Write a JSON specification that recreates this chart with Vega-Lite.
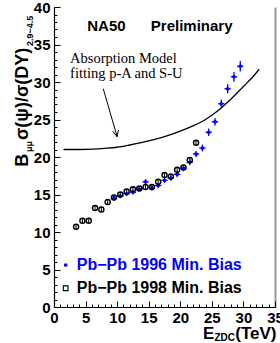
{
  "$schema": "https://vega.github.io/schema/vega-lite/v6.json",
  "width": 221,
  "height": 300,
  "autosize": "none",
  "padding": {"left": 54, "top": 7, "right": 5, "bottom": 36},
  "background": "white",
  "config": {
    "view": {"stroke": null},
    "axis": {"labelFont": "Liberation Sans", "labelFontWeight": "bold", "labelFontSize": 15, "labelColor": "black", "domainColor": "black", "tickColor": "black", "grid": false, "title": null}
  },
  "resolve": {"axis": {"x": "independent", "y": "independent"}},
  "datasets": {
    "model": [
      {"e": 1.5, "r": 21.0}, {"e": 4, "r": 21.0}, {"e": 6, "r": 21.05}, {"e": 8, "r": 21.15}, {"e": 10, "r": 21.3},
      {"e": 12, "r": 21.6}, {"e": 14, "r": 21.95}, {"e": 16, "r": 22.35}, {"e": 18, "r": 22.85}, {"e": 20, "r": 23.45},
      {"e": 22, "r": 24.15}, {"e": 24, "r": 25.0}, {"e": 26, "r": 26.2}, {"e": 28, "r": 27.7}, {"e": 30, "r": 29.4},
      {"e": 31.5, "r": 30.7}, {"e": 32.5, "r": 31.7}
    ],
    "pb98": [
      {"e": 3.5, "r": 10.7, "lo": 10.35, "hi": 11.05},
      {"e": 4.5, "r": 11.5, "lo": 11.2, "hi": 11.8},
      {"e": 5.5, "r": 11.5, "lo": 11.2, "hi": 11.8},
      {"e": 6.5, "r": 13.2, "lo": 12.9, "hi": 13.5},
      {"e": 7.5, "r": 13.0, "lo": 12.7, "hi": 13.3},
      {"e": 8.5, "r": 14.0, "lo": 13.7, "hi": 14.3},
      {"e": 9.5, "r": 14.6, "lo": 14.3, "hi": 14.9},
      {"e": 10.5, "r": 15.0, "lo": 14.7, "hi": 15.3},
      {"e": 11.5, "r": 15.4, "lo": 15.1, "hi": 15.7},
      {"e": 12.5, "r": 15.7, "lo": 15.4, "hi": 16.0},
      {"e": 13.5, "r": 15.8, "lo": 15.5, "hi": 16.1},
      {"e": 14.5, "r": 16.0, "lo": 15.7, "hi": 16.3},
      {"e": 15.5, "r": 16.0, "lo": 15.7, "hi": 16.3},
      {"e": 16.5, "r": 16.7, "lo": 16.4, "hi": 17.0},
      {"e": 17.5, "r": 17.6, "lo": 17.3, "hi": 17.9},
      {"e": 18.5, "r": 17.4, "lo": 17.1, "hi": 17.7},
      {"e": 19.5, "r": 18.3, "lo": 18.0, "hi": 18.6},
      {"e": 20.5, "r": 18.6, "lo": 18.3, "hi": 18.9},
      {"e": 21.5, "r": 19.6, "lo": 19.3, "hi": 19.9},
      {"e": 22.5, "r": 21.9, "lo": 21.6, "hi": 22.2}
    ],
    "pb96": [
      {"e": 9.5, "r": 14.5, "lo": 14.2, "hi": 14.8, "elo": 9.0, "ehi": 10.0},
      {"e": 10.5, "r": 14.8, "lo": 14.5, "hi": 15.1, "elo": 10.0, "ehi": 11.0},
      {"e": 11.5, "r": 15.1, "lo": 14.8, "hi": 15.4, "elo": 11.0, "ehi": 12.0},
      {"e": 12.5, "r": 15.3, "lo": 15.0, "hi": 15.6, "elo": 12.0, "ehi": 13.0},
      {"e": 13.5, "r": 15.7, "lo": 15.4, "hi": 16.0, "elo": 13.0, "ehi": 14.0},
      {"e": 14.5, "r": 16.7, "lo": 16.35, "hi": 17.05, "elo": 14.0, "ehi": 15.0},
      {"e": 15.5, "r": 15.9, "lo": 15.55, "hi": 16.25, "elo": 15.0, "ehi": 16.0},
      {"e": 16.5, "r": 16.2, "lo": 15.85, "hi": 16.55, "elo": 16.0, "ehi": 17.0},
      {"e": 17.5, "r": 16.9, "lo": 16.55, "hi": 17.25, "elo": 17.0, "ehi": 18.0},
      {"e": 18.5, "r": 17.2, "lo": 16.85, "hi": 17.55, "elo": 18.0, "ehi": 19.0},
      {"e": 19.5, "r": 17.7, "lo": 17.3, "hi": 18.1, "elo": 19.0, "ehi": 20.0},
      {"e": 20.5, "r": 18.5, "lo": 18.1, "hi": 18.9, "elo": 20.0, "ehi": 21.0},
      {"e": 21.5, "r": 19.3, "lo": 18.9, "hi": 19.7, "elo": 21.0, "ehi": 22.0},
      {"e": 22.5, "r": 20.4, "lo": 20.0, "hi": 20.8, "elo": 22.0, "ehi": 23.0},
      {"e": 23.5, "r": 21.2, "lo": 20.75, "hi": 21.65, "elo": 23.0, "ehi": 24.0},
      {"e": 24.5, "r": 23.3, "lo": 22.8, "hi": 23.8, "elo": 24.0, "ehi": 25.0},
      {"e": 25.5, "r": 24.7, "lo": 24.2, "hi": 25.2, "elo": 25.0, "ehi": 26.0},
      {"e": 26.5, "r": 27.1, "lo": 26.55, "hi": 27.65, "elo": 26.0, "ehi": 27.0},
      {"e": 27.5, "r": 29.1, "lo": 28.5, "hi": 29.7, "elo": 27.0, "ehi": 28.0},
      {"e": 28.5, "r": 30.7, "lo": 30.05, "hi": 31.35, "elo": 28.0, "ehi": 29.0},
      {"e": 29.5, "r": 32.1, "lo": 31.4, "hi": 32.8, "elo": 29.0, "ehi": 30.0}
    ],
    "arrow": [
      {"e": 7.8, "r": 29.1, "e2": 10.0, "r2": 22.7},
      {"e": 9.3, "r": 23.45, "e2": 10.0, "r2": 22.7},
      {"e": 10.2, "r": 23.6, "e2": 10.0, "r2": 22.7}
    ]
  },
  "layer": [
    {
      "data": {"name": "model"},
      "mark": {"type": "line", "color": "black", "strokeWidth": 1.3, "interpolate": "monotone"},
      "encoding": {
        "x": {"field": "e", "type": "quantitative", "scale": {"domain": [0, 35], "nice": false, "zero": false},
              "axis": {"orient": "bottom", "values": [0, 5, 10, 15, 20, 25, 30, 35], "tickSize": -6, "labelPadding": 9, "domainWidth": 1.2, "labelFlush": false, "labelOverlap": false, "zindex": 2}},
        "y": {"field": "r", "type": "quantitative", "scale": {"domain": [0, 40], "nice": false, "zero": false},
              "axis": {"orient": "left", "values": [0, 5, 10, 15, 20, 25, 30, 35, 40], "tickSize": -6, "labelPadding": 10, "domainWidth": 1.2, "labelFlush": false, "labelOverlap": false, "labelBound": false, "zindex": 2}}
      }
    },
    {
      "data": {"name": "pb98"},
      "mark": {"type": "rule", "color": "black", "strokeWidth": 1},
      "encoding": {
        "x": {"field": "e", "type": "quantitative", "scale": {"domain": [0, 35], "nice": false, "zero": false}, "axis": null},
        "y": {"field": "lo", "type": "quantitative", "scale": {"domain": [0, 40], "nice": false, "zero": false}, "axis": null},
        "y2": {"field": "hi"}
      }
    },
    {
      "data": {"name": "pb96"},
      "mark": {"type": "rule", "color": "#0000ff", "strokeWidth": 1.3},
      "encoding": {
        "x": {"field": "e", "type": "quantitative", "scale": {"domain": [0, 35], "nice": false, "zero": false}, "axis": null},
        "y": {"field": "lo", "type": "quantitative", "scale": {"domain": [0, 40], "nice": false, "zero": false}, "axis": null},
        "y2": {"field": "hi"}
      }
    },
    {
      "data": {"name": "pb96"},
      "mark": {"type": "rule", "color": "#0000ff", "strokeWidth": 1.3},
      "encoding": {
        "x": {"field": "elo", "type": "quantitative", "scale": {"domain": [0, 35], "nice": false, "zero": false}, "axis": null},
        "x2": {"field": "ehi"},
        "y": {"field": "r", "type": "quantitative", "scale": {"domain": [0, 40], "nice": false, "zero": false}, "axis": null}
      }
    },
    {
      "data": {"name": "pb96"},
      "mark": {"type": "point", "shape": "circle", "filled": true, "color": "#0000ff", "size": 14, "opacity": 1},
      "encoding": {
        "x": {"field": "e", "type": "quantitative", "scale": {"domain": [0, 35], "nice": false, "zero": false}, "axis": null},
        "y": {"field": "r", "type": "quantitative", "scale": {"domain": [0, 40], "nice": false, "zero": false},
              "axis": {"orient": "right", "ticks": false, "labels": false, "domainColor": "#999999", "domainWidth": 2}}
      }
    },
    {
      "data": {"name": "pb98"},
      "mark": {"type": "point", "shape": "circle", "filled": false, "color": "black", "size": 26, "strokeWidth": 1.4, "opacity": 1},
      "encoding": {
        "x": {"field": "e", "type": "quantitative", "scale": {"domain": [0, 35], "nice": false, "zero": false},
              "axis": {"orient": "bottom", "values": [1,2,3,4,6,7,8,9,11,12,13,14,16,17,18,19,21,22,23,24,26,27,28,29,31,32,33,34], "tickSize": -3, "labels": false, "domain": false}},
        "y": {"field": "r", "type": "quantitative", "scale": {"domain": [0, 40], "nice": false, "zero": false},
              "axis": {"orient": "left", "values": [1,2,3,4,6,7,8,9,11,12,13,14,16,17,18,19,21,22,23,24,26,27,28,29,31,32,33,34,36,37,38,39], "tickSize": -3, "labels": false, "domain": false}}
      }
    },
    {
      "data": {"name": "arrow"},
      "mark": {"type": "rule", "color": "black", "strokeWidth": 1},
      "encoding": {
        "x": {"field": "e", "type": "quantitative", "scale": {"domain": [0, 35], "nice": false, "zero": false}, "axis": null},
        "x2": {"field": "e2"},
        "y": {"field": "r", "type": "quantitative", "scale": {"domain": [0, 40], "nice": false, "zero": false}, "axis": null},
        "y2": {"field": "r2"}
      }
    },
    {
      "data": {"values": [{"e": 8.3, "r": 36.8, "t": "NA50"}, {"e": 21.8, "r": 36.8, "t": "Preliminary"}]},
      "mark": {"type": "text", "font": "Liberation Sans", "fontWeight": "bold", "fontSize": 15, "align": "center", "baseline": "alphabetic", "color": "black"},
      "encoding": {
        "x": {"field": "e", "type": "quantitative", "scale": {"domain": [0, 35], "nice": false, "zero": false}, "axis": null},
        "y": {"field": "r", "type": "quantitative", "scale": {"domain": [0, 40], "nice": false, "zero": false}, "axis": null},
        "text": {"field": "t"}
      }
    },
    {
      "data": {"values": [{"e": 2.55, "r": 32.5, "t": "Absorption Model"}, {"e": 2.55, "r": 30.5, "t": "fitting p-A and S-U"}]},
      "mark": {"type": "text", "font": "Liberation Serif", "fontSize": 14.5, "align": "left", "baseline": "alphabetic", "color": "black"},
      "encoding": {
        "x": {"field": "e", "type": "quantitative", "scale": {"domain": [0, 35], "nice": false, "zero": false}, "axis": null},
        "y": {"field": "r", "type": "quantitative", "scale": {"domain": [0, 40], "nice": false, "zero": false}, "axis": null},
        "text": {"field": "t"}
      }
    },
    {
      "data": {"values": [{"e": 1.85, "r": 5.6}]},
      "mark": {"type": "point", "shape": "circle", "filled": true, "color": "#0000ff", "size": 14, "opacity": 1},
      "encoding": {
        "x": {"field": "e", "type": "quantitative", "scale": {"domain": [0, 35], "nice": false, "zero": false}, "axis": null},
        "y": {"field": "r", "type": "quantitative", "scale": {"domain": [0, 40], "nice": false, "zero": false}, "axis": null}
      }
    },
    {
      "data": {"values": [{"e": 1.85, "r": 2.5}]},
      "mark": {"type": "point", "shape": "square", "filled": false, "color": "black", "size": 22, "strokeWidth": 1.1, "opacity": 1},
      "encoding": {
        "x": {"field": "e", "type": "quantitative", "scale": {"domain": [0, 35], "nice": false, "zero": false}, "axis": null},
        "y": {"field": "r", "type": "quantitative", "scale": {"domain": [0, 40], "nice": false, "zero": false}, "axis": null}
      }
    },
    {
      "data": {"values": [{"e": 3.6, "r": 5.6, "t": "Pb−Pb 1996 Min. Bias"}]},
      "mark": {"type": "text", "font": "Liberation Sans", "fontWeight": "bold", "fontSize": 16, "align": "left", "baseline": "middle", "color": "#0000ff"},
      "encoding": {
        "x": {"field": "e", "type": "quantitative", "scale": {"domain": [0, 35], "nice": false, "zero": false}, "axis": null},
        "y": {"field": "r", "type": "quantitative", "scale": {"domain": [0, 40], "nice": false, "zero": false}, "axis": null},
        "text": {"field": "t"}
      }
    },
    {
      "data": {"values": [{"e": 3.6, "r": 2.5, "t": "Pb−Pb 1998 Min. Bias"}]},
      "mark": {"type": "text", "font": "Liberation Sans", "fontWeight": "bold", "fontSize": 16, "align": "left", "baseline": "middle", "color": "black"},
      "encoding": {
        "x": {"field": "e", "type": "quantitative", "scale": {"domain": [0, 35], "nice": false, "zero": false}, "axis": null},
        "y": {"field": "r", "type": "quantitative", "scale": {"domain": [0, 40], "nice": false, "zero": false}, "axis": null},
        "text": {"field": "t"}
      }
    },
    {
      "data": {"values": [{"e": 23.6, "r": -4.29, "t": "E"}, {"e": 28.7, "r": -4.29, "t": "(TeV)"}]},
      "mark": {"type": "text", "font": "Liberation Sans", "fontWeight": "bold", "fontSize": 17, "align": "left", "baseline": "alphabetic", "color": "black"},
      "encoding": {
        "x": {"field": "e", "type": "quantitative", "scale": {"domain": [0, 35], "nice": false, "zero": false}, "axis": null},
        "y": {"field": "r", "type": "quantitative", "scale": {"domain": [0, 40], "nice": false, "zero": false}, "axis": null},
        "text": {"field": "t"}
      }
    },
    {
      "data": {"values": [{"e": 25.4, "r": -4.55, "t": "ZDC"}]},
      "mark": {"type": "text", "font": "Liberation Sans", "fontWeight": "bold", "fontSize": 10, "align": "left", "baseline": "alphabetic", "color": "black"},
      "encoding": {
        "x": {"field": "e", "type": "quantitative", "scale": {"domain": [0, 35], "nice": false, "zero": false}, "axis": null},
        "y": {"field": "r", "type": "quantitative", "scale": {"domain": [0, 40], "nice": false, "zero": false}, "axis": null},
        "text": {"field": "t"}
      }
    },
    {
      "data": {"values": [{"e": -4.12, "r": 18.7, "t": "B"}, {"e": -4.12, "r": 22.27, "t": "σ(ψ)/σ(DY)"}]},
      "mark": {"type": "text", "font": "Liberation Sans", "fontWeight": "bold", "fontSize": 18, "align": "left", "baseline": "alphabetic", "angle": 270, "color": "black"},
      "encoding": {
        "x": {"field": "e", "type": "quantitative", "scale": {"domain": [0, 35], "nice": false, "zero": false}, "axis": null},
        "y": {"field": "r", "type": "quantitative", "scale": {"domain": [0, 40], "nice": false, "zero": false}, "axis": null},
        "text": {"field": "t"}
      }
    },
    {
      "data": {"values": [{"e": -3.49, "r": 20.67, "t": "μμ"}, {"e": -3.33, "r": 34.8, "t": "2.9−4.5"}]},
      "mark": {"type": "text", "font": "Liberation Sans", "fontWeight": "bold", "fontSize": 9, "align": "left", "baseline": "alphabetic", "angle": 270, "color": "black"},
      "encoding": {
        "x": {"field": "e", "type": "quantitative", "scale": {"domain": [0, 35], "nice": false, "zero": false}, "axis": null},
        "y": {"field": "r", "type": "quantitative", "scale": {"domain": [0, 40], "nice": false, "zero": false}, "axis": null},
        "text": {"field": "t"}
      }
    }
  ]
}
